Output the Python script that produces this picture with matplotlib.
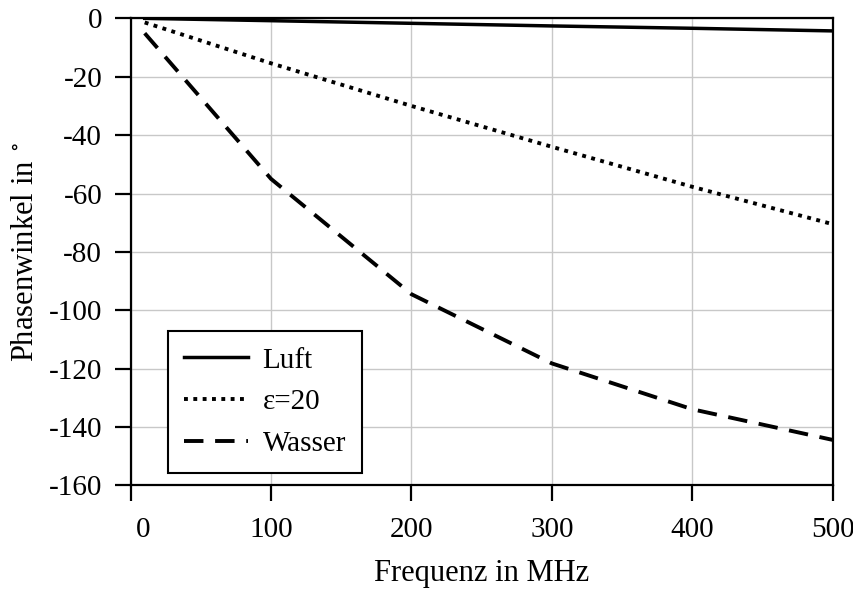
import matplotlib.pyplot as plt
import matplotlib.transforms as mtrans

plt.rcParams['font.family'] = ['Liberation Serif', 'DejaVu Serif']
plt.rcParams['mathtext.fontset'] = 'stix'
plt.rcParams['axes.unicode_minus'] = False

# Frequenz in MHz
freq = [10, 100, 200, 300, 400, 500]
# Phasenwinkel in Grad
luft = [0.0, -0.8, -1.7, -2.6, -3.4, -4.3]
eps20 = [-1.4, -15.4, -30.0, -44.0, -57.7, -70.5]
wasser = [-5.1, -55.0, -94.5, -118.2, -133.9, -144.4]

xticks = [0, 100, 200, 300, 400, 500]
yticks = [0, -20, -40, -60, -80, -100, -120, -140, -160]

fig = plt.figure(figsize=(8.54, 5.92), dpi=100)
ax = fig.add_axes([0.153, 0.18, 0.822, 0.789])

ax.plot(freq, luft, color='black', lw=2.5, ls='-', label='Luft')
ax.plot(freq, eps20, color='black', lw=2.8, ls=(0, (1, 1.4)), label='ε=20')
ax.plot(freq, wasser, color='black', lw=2.8, ls=(0, (5, 3)), label='Wasser')

ax.set_xlim(0, 500)
ax.set_ylim(-160, 0)
ax.set_xticks(xticks)
ax.set_yticks(yticks)
ax.grid(True, color='#c8c8c8', lw=1.0)
ax.set_axisbelow(True)

for s in ax.spines.values():
    s.set_linewidth(1.6)
ax.tick_params(direction='out', length=11.5, width=1.6, labelsize=21)
ax.tick_params(axis='x', pad=11)
ax.tick_params(axis='y', pad=9)

# "0" etwas nach rechts, damit es nicht an der y-Achse klebt
for i, t in enumerate(ax.xaxis.get_major_ticks()):
    if i == 0:
        t.label1.set_transform(t.label1.get_transform() +
                               mtrans.ScaledTranslation(0.12, 0, fig.dpi_scale_trans))

ax.set_xlabel('Frequenz in MHz', fontsize=22, labelpad=12)
ax.set_ylabel(r'Phasenwinkel in $^\circ$', fontsize=22, labelpad=6)

leg = ax.legend(loc='lower left', bbox_to_anchor=(0.053, 0.027), borderaxespad=0,
                fontsize=21, frameon=True, fancybox=False, edgecolor='black',
                handlelength=2.2, handletextpad=0.5, borderpad=0.55, labelspacing=0.52)
leg.get_frame().set_linewidth(1.5)
leg.get_frame().set_alpha(1)

fig.savefig('out.png', dpi=100)
